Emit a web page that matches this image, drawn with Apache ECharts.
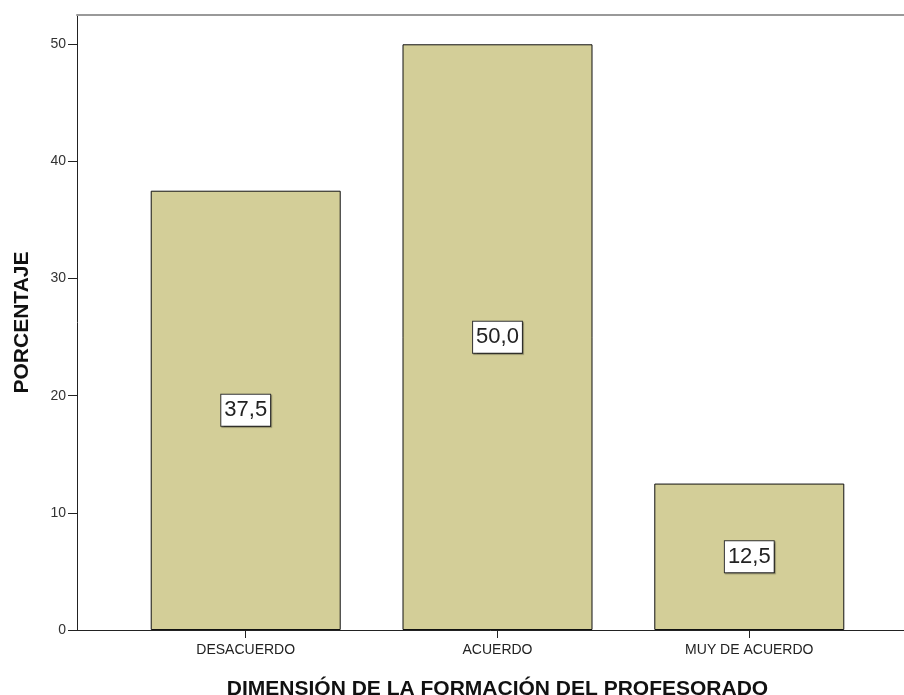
<!DOCTYPE html>
<html><head><meta charset="utf-8">
<script src="https://cdn.jsdelivr.net/npm/echarts@6/dist/echarts.min.js"></script>
<style>html,body{margin:0;padding:0;background:#fff}#c{width:904px;height:695px}</style>
</head><body><div id="c"></div>
<script>
const categories = ['DESACUERDO', 'ACUERDO', 'MUY DE ACUERDO'];
const percentages = [37.5, 50.0, 12.5];
const yTicks = [0, 10, 20, 30, 40, 50];
const xTitle = 'DIMENSIÓN DE LA FORMACIÓN DEL PROFESORADO';
const yTitle = 'PORCENTAJE';

const font = 'Liberation Sans, Arial, sans-serif';
const chart = echarts.init(document.getElementById('c'), null, {renderer: 'canvas'});
chart.setOption({
  animation: false,
  grid: {left: 77, right: -14, top: 15, bottom: 65, containLabel: false, outerBoundsMode: 'none'},
  xAxis: [{
    type: 'value', min: -0.67, max: 2.67, position: 'bottom',
    splitLine: {show: false},
    axisLine: {show: true, onZero: false, lineStyle: {color: '#222', width: 1}},
    axisTick: {show: true, length: 8, inside: false, customValues: [0, 1, 2], lineStyle: {color: '#222'}},
    axisLabel: {customValues: [0, 1, 2], formatter: v => categories[Math.round(v)] || '', fontFamily: font, fontSize: 14, color: '#222', margin: 13},
    name: xTitle, nameLocation: 'middle', nameGap: 49,
    nameTextStyle: {fontFamily: font, fontSize: 21, fontWeight: 'bold', color: '#111'}
  }, {
    type: 'value', min: -0.67, max: 2.67, position: 'top',
    splitLine: {show: false},
    axisLine: {show: true, onZero: false, lineStyle: {color: '#999', width: 2}},
    axisTick: {show: false}, axisLabel: {show: false}
  }],
  yAxis: {
    type: 'value', min: 0, max: 52.5, interval: 10,
    splitLine: {show: false},
    axisLine: {show: true, onZero: false, lineStyle: {color: '#222', width: 1}},
    axisTick: {show: true, length: 9, customValues: yTicks, lineStyle: {color: '#222'}},
    axisLabel: {customValues: yTicks, fontFamily: font, fontSize: 14, color: '#333', margin: 11},
    name: yTitle, nameLocation: 'middle', nameGap: 44, nameRotate: 90,
    nameTextStyle: {fontFamily: font, fontSize: 21, fontWeight: 'bold', color: '#111'}
  },
  series: [{
    type: 'bar', xAxisIndex: 0,
    barWidth: 190,
    data: percentages.map((v, i) => [i, v]),
    itemStyle: {color: '#D3CE98', borderColor: '#111', borderWidth: 1},
    label: {
      show: true, position: 'inside',
      formatter: p => p.value[1].toFixed(1).replace('.', ','),
      fontFamily: font, fontSize: 22, color: '#222',
      backgroundColor: '#fff', borderColor: '#333', borderWidth: 1,
      padding: [5, 3, 4, 3],
      shadowColor: 'rgba(0,0,0,0.35)', shadowOffsetX: 1, shadowOffsetY: 1, shadowBlur: 1
    }
  }]
});
</script></body></html>
